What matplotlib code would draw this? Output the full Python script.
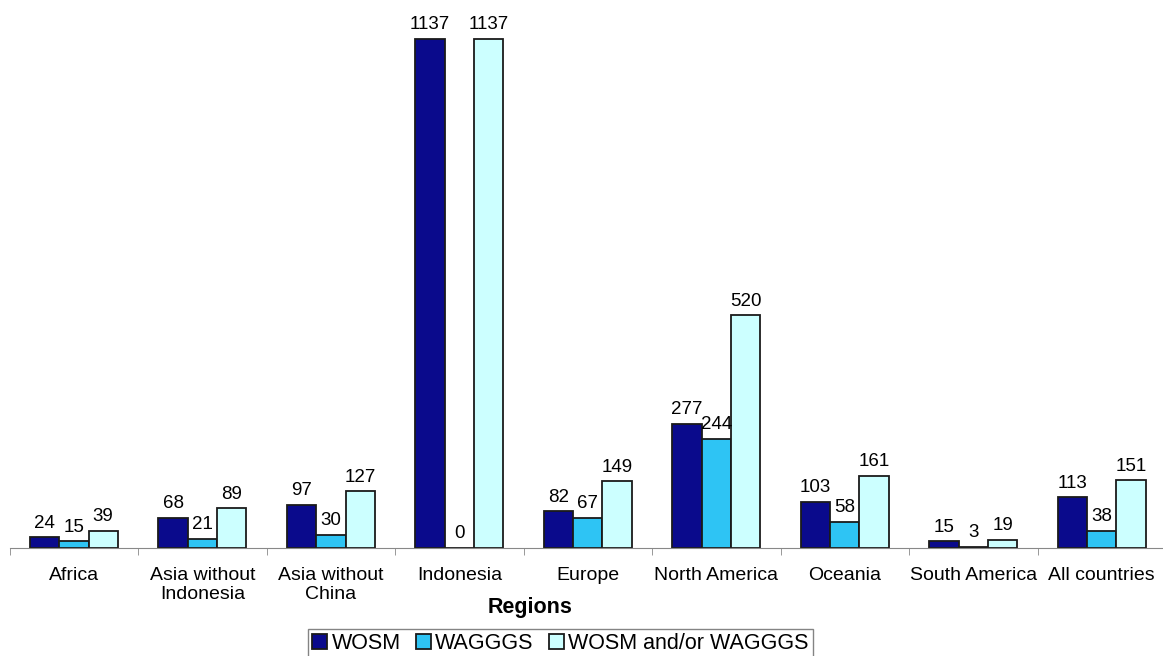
import matplotlib.pyplot as plt
import numpy as np

plt.rcParams['font.family'] = ['Liberation Sans', 'DejaVu Sans']

# regions and rates per series
regions = ['Africa', 'Asia without\nIndonesia', 'Asia without\nChina', 'Indonesia',
           'Europe', 'North America', 'Oceania', 'South America', 'All countries']
wosm = [24, 68, 97, 1137, 82, 277, 103, 15, 113]
waggs = [15, 21, 30, 0, 67, 244, 58, 3, 38]
both = [39, 89, 127, 1137, 149, 520, 161, 19, 151]
series_names = ['WOSM', 'WAGGGS', 'WOSM and/or WAGGGS']
colors = ['#0a0a8c', '#2ec4f4', '#ccffff']

fig = plt.figure(figsize=(11.63, 6.56), dpi=100)
ax = fig.add_axes([0.0083, 0.1646, 0.9943, 0.8354])

x = np.arange(len(regions))
w = 0.228
for i, (vals, name, c) in enumerate(zip([wosm, waggs, both], series_names, colors)):
    bars = ax.bar(x + (i - 1) * w, vals, w, color=c, edgecolor='#1a1a1a',
                  linewidth=1.3, label=name)
    ax.bar_label(bars, padding=4, fontsize=13.5)

ax.set_xlim(-0.5, len(regions) - 0.5)
ax.set_ylim(0, 1224)
for s in ['top', 'right', 'left']:
    ax.spines[s].set_visible(False)
ax.spines['bottom'].set_color('#888888')
ax.set_yticks([])
ax.set_xticks(x)
ax.set_xticklabels(regions, fontsize=14, linespacing=1.15)
ax.tick_params(axis='x', which='major', length=0, pad=14)
ax.set_xticks(np.arange(len(regions) + 1) - 0.5, minor=True)
ax.tick_params(axis='x', which='minor', length=5, color='#888888')
fig.text(0.456, 0.074, 'Regions', fontsize=15.5, fontweight='bold',
         ha='center', va='center')

leg = fig.legend(loc='lower center', bbox_to_anchor=(0.482, -0.004), ncol=3,
                 fontsize=15.5, frameon=True, fancybox=False, edgecolor='#666666',
                 handlelength=0.7, handleheight=0.7, handletextpad=0.2,
                 columnspacing=0.7, borderpad=0.2, borderaxespad=0)
leg.get_frame().set_linewidth(1.0)

fig.savefig('out.png', dpi=100)
